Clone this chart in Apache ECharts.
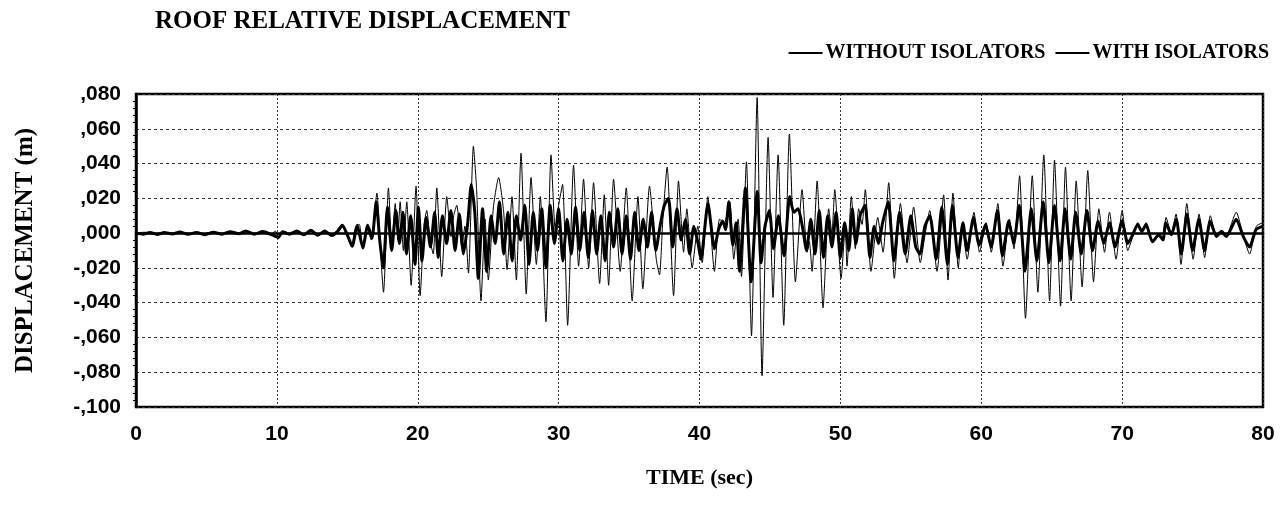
<!DOCTYPE html>
<html>
<head>
<meta charset="utf-8">
<script src="https://cdn.jsdelivr.net/npm/echarts@6/dist/echarts.min.js"></script>
<style>html,body{margin:0;padding:0;background:#fff}#c{width:1288px;height:508px}</style>
</head>
<body>
<div id="c"></div>
<script>
const titleText = 'ROOF RELATIVE DISPLACEMENT';
const seriesNames = ['WITHOUT ISOLATORS', 'WITH ISOLATORS'];
const xTicks = [0, 10, 20, 30, 40, 50, 60, 70, 80];
const yTicks = [-0.1, -0.08, -0.06, -0.04, -0.02, 0, 0.02, 0.04, 0.06, 0.08];

// WITHOUT ISOLATORS (thin line): time (s) and displacement (m)
const timeWithout = [0,0.6,1.2,1.8,2.4,3.0,3.6,4.2,4.8,5.4,6.0,6.6,7.2,7.7,8.3,8.9,9.5,9.9,10.1,10.5,11.0,11.5,12.0,12.5,13.0,13.4,13.8,14.2,14.6,15.0,15.3,15.6,15.85,16.1,16.4,16.7,
17.1,17.35,17.57,17.92,18.16,18.4,18.58,18.75,18.98,19.22,19.53,19.88,20.17,20.45,20.64,20.87,21.1,21.35,21.7,22.06,22.36,22.55,22.77,23.12,23.35,23.6,23.95,24.18,24.49,24.78,25.01,25.37,
25.74,26.1,26.34,26.69,27.0,27.33,27.7,28.04,28.42,28.7,29.1,29.46,29.76,30.0,30.28,30.64,31.06,31.42,31.77,32.13,32.48,32.91,33.24,33.55,33.9,
34.37,34.8,35.22,35.63,35.98,36.45,36.93,37.16,37.4,37.7,38.16,38.51,38.87,39.1,39.48,39.88,40.19,40.59,41.06,41.42,41.77,42.15,
42.43,42.74,42.98,43.33,43.69,44.09,44.44,44.87,45.22,45.58,45.98,46.38,46.81,47.28,47.64,47.8,47.99,48.35,48.77,49.17,49.4,49.6,50.05,
50.35,50.47,50.78,51.06,51.3,51.54,51.77,52.17,52.65,53.03,53.43,53.83,54.26,54.73,55.2,55.67,56.03,56.34,56.86,57.33,57.64,57.99,58.37,
58.63,59.0,59.48,59.88,60.35,60.71,61.18,61.54,62.0,62.32,62.72,63.14,63.62,64.02,64.44,64.85,65.2,65.63,65.98,66.38,
66.74,67.16,67.56,67.97,68.35,68.75,69.1,69.57,70.0,70.4,70.76,71.11,71.42,71.7,72.17,72.6,72.88,73.12,73.48,73.83,74.18,74.59,
75.04,75.46,75.86,76.26,76.69,77.04,77.4,78.1,78.58,79.05,79.53,80.0];
const dispWithout = [0,0.0005,-0.0008,0.0004,-0.0006,0.0003,-0.0009,0.0005,-0.0004,0.0006,-0.0008,0.0004,-0.0005,0.0015,-0.0008,0.0007,-0.001,0.0012,-0.003,0.001,-0.0005,0.0015,-0.0012,0.0018,-0.0015,0.0015,-0.001,0.001,0.005,-0.002,-0.008,0.004,0.005,-0.009,0.004,-0.004,
0.023,-0.01,-0.034,0.026,-0.007,0.017,-0.004,0.018,-0.010,0.018,-0.030,0.027,-0.036,0.005,0.013,-0.004,-0.012,0.026,-0.025,0.021,-0.002,0.010,0.016,-0.008,0.004,-0.023,0.050,0.025,-0.039,0.008,-0.027,0.015,
0.032,0.012,-0.021,0.021,-0.027,0.046,-0.035,0.032,-0.018,0.021,-0.051,0.045,0.002,0.016,0.028,-0.053,0.039,-0.019,0.031,-0.020,0.029,-0.029,0.022,-0.030,0.031,
-0.022,0.026,-0.039,0.021,-0.032,0.027,-0.015,-0.024,0.008,0.038,-0.036,0.030,-0.011,0.014,-0.020,0.004,-0.017,0.021,-0.022,0.008,0.006,0.018,
-0.015,0.008,-0.025,0.041,-0.059,0.078,-0.082,0.055,-0.037,0.045,-0.053,0.057,-0.028,0.025,-0.011,-0.005,-0.022,0.030,-0.043,0.014,0.0,0.025,-0.026,
0.004,-0.019,0.021,-0.009,0.014,0.005,0.025,-0.022,0.009,-0.011,0.029,-0.026,0.017,-0.017,0.015,-0.017,0.0,0.013,-0.022,0.022,-0.027,0.023,-0.020,
0.004,-0.015,0.012,-0.011,0.006,-0.011,0.017,-0.019,0.008,-0.009,0.033,-0.049,0.033,-0.034,0.045,-0.039,0.042,-0.042,0.038,-0.039,
0.030,-0.031,0.036,-0.028,0.014,-0.011,0.012,-0.015,0.013,-0.010,-0.002,0.006,0.001,0.006,-0.005,-0.001,-0.004,0.009,0.0,0.011,-0.018,0.017,
-0.015,0.011,-0.014,0.010,-0.001,0.001,-0.001,0.012,-0.001,-0.012,0.004,0.006];

// WITH ISOLATORS (thick line): time (s) and displacement (m)
const timeWith = [0,0.5,1.0,1.5,2.0,2.6,3.1,3.7,4.3,4.9,5.5,6.1,6.7,7.3,7.8,8.4,9.0,9.6,10.1,10.4,10.9,11.4,11.9,12.4,12.9,13.4,13.9,14.3,14.65,15.0,15.35,15.7,16.1,16.45,16.75,
17.05,17.3,17.55,17.85,18.15,18.45,18.7,18.95,19.2,19.5,19.8,20.05,20.3,20.6,20.9,21.2,21.45,21.75,22.05,22.35,22.65,22.95,23.25,23.55,23.8,24.05,24.3,24.6,24.9,25.2,25.5,25.8,
26.1,26.4,26.7,27.0,27.3,27.6,27.9,28.2,28.5,28.8,29.1,29.4,29.7,30.0,30.3,30.6,30.9,31.2,31.5,31.8,32.1,32.4,32.7,33.0,33.3,33.6,33.9,
34.2,34.5,34.8,35.1,35.4,35.7,36.0,36.3,36.6,36.9,37.2,37.5,37.8,38.1,38.4,38.7,39.0,39.3,39.6,39.9,40.1,40.6,41.06,41.35,41.65,41.85,42.08,42.36,42.6,42.84,
43.26,43.66,44.1,44.37,44.65,44.96,45.25,45.6,46.0,46.4,46.7,47.0,47.3,47.6,47.9,48.2,48.5,48.8,49.1,49.4,49.7,50.0,
50.3,50.6,50.85,51.1,51.4,51.75,52.1,52.4,52.7,53.0,53.4,53.8,54.2,54.6,55.0,55.35,55.65,56.0,56.35,56.8,57.2,57.6,57.95,58.35,
58.7,59.0,59.45,59.85,60.3,60.7,61.15,61.5,61.95,62.3,62.7,63.1,63.55,63.95,64.4,64.8,65.2,65.6,65.95,66.35,
66.7,67.1,67.5,67.9,68.3,68.7,69.1,69.5,70.0,70.4,70.75,71.1,71.4,71.7,72.15,72.6,72.9,73.1,73.5,73.85,74.2,74.6,
75.0,75.45,75.85,76.25,76.7,77.05,77.4,78.1,78.6,79.05,79.5,80.0];
const dispWith = [0,-0.0006,0.0004,-0.0008,0.0003,-0.0005,0.0006,-0.0007,0.0004,-0.0009,0.0005,-0.0006,0.0008,-0.0004,0.0012,-0.0006,0.0009,-0.0008,-0.0025,0.0008,-0.0006,0.0012,-0.001,0.0016,-0.0012,0.0012,-0.0014,0.0008,0.0045,-0.001,-0.0075,0.0045,-0.0085,0.0045,-0.003,
0.018,-0.004,-0.020,0.015,-0.010,0.013,-0.006,0.012,-0.012,0.010,-0.018,0.015,-0.016,0.009,-0.008,0.012,-0.014,0.010,-0.006,0.013,-0.010,0.011,-0.012,0.006,0.028,0.012,-0.026,0.014,-0.022,0.010,-0.006,0.018,
-0.012,0.012,-0.016,0.010,-0.004,0.016,-0.018,0.012,-0.010,0.014,-0.020,0.016,-0.006,0.014,-0.016,0.008,-0.012,0.015,-0.010,0.012,-0.014,0.013,-0.012,0.010,-0.016,0.012,-0.008,
0.014,-0.012,0.010,-0.015,0.012,-0.010,0.008,-0.008,0.012,-0.010,0.004,0.016,0.020,-0.008,0.014,-0.004,0.008,-0.012,0.004,-0.006,-0.015,0.017,-0.009,0.002,0.007,0.002,0.018,-0.007,0.006,-0.022,
0.026,-0.028,0.024,-0.017,0.004,0.013,-0.009,0.010,-0.013,0.021,0.012,0.014,0.004,-0.010,0.008,-0.012,0.013,-0.014,0.010,-0.008,0.012,-0.014,
0.006,-0.010,0.014,-0.006,0.010,0.016,-0.014,0.004,-0.006,0.006,0.018,-0.016,0.012,-0.012,0.010,-0.008,-0.012,0.004,0.010,-0.015,0.015,-0.018,0.016,-0.014,
0.006,-0.010,0.009,-0.007,0.005,-0.008,0.013,-0.013,0.007,-0.006,0.016,-0.022,0.014,-0.016,0.018,-0.017,0.016,-0.016,0.014,-0.015,
0.012,-0.012,0.013,-0.010,0.007,-0.006,0.006,-0.008,0.007,-0.006,-0.001,0.005,0.001,0.005,-0.005,-0.001,-0.004,0.006,-0.001,0.008,-0.012,0.011,
-0.010,0.008,-0.010,0.007,-0.002,0.001,-0.002,0.008,-0.002,-0.008,0.002,0.004];

const zip = (t, v) => t.map((x, i) => [x, v[i]]);
const fmtY = v => { const n = Math.round(v * 1000); return (n < 0 ? '-' : '') + ',' + String(Math.abs(n)).padStart(3, '0'); };

const serif = '"Liberation Serif", "DejaVu Serif", serif';
const sans = '"Liberation Sans", Arial, sans-serif';

const chart = echarts.init(document.getElementById('c'), null, { renderer: 'canvas' });
chart.setOption({
  animation: false,
  backgroundColor: '#fff',
  title: {
    text: titleText, left: 150, top: 4,
    textStyle: { fontFamily: serif, fontWeight: 'bold', fontSize: 25, color: '#000' }
  },
  legend: {
    data: [{ name: seriesNames[0], icon: 'rect' }, { name: seriesNames[1], icon: 'rect' }],
    right: 14, top: 38, itemWidth: 34, itemHeight: 2, itemGap: 10,
    textStyle: { fontFamily: serif, fontWeight: 'bold', fontSize: 20, color: '#000', padding: [0, 0, 0, -2] }
  },
  grid: { left: 136, right: 25, top: 94, bottom: 101, show: true, borderColor: '#000', borderWidth: 2.5, backgroundColor: 'transparent' },
  xAxis: {
    type: 'value', min: xTicks[0], max: xTicks[xTicks.length - 1], interval: 10,
    name: 'TIME (sec)', nameLocation: 'middle', nameGap: 60,
    nameTextStyle: { fontFamily: serif, fontWeight: 'bold', fontSize: 22, color: '#000' },
    axisLine: { show: true, lineStyle: { color: '#000', width: 2.5 } },
    axisTick: { show: false },
    axisLabel: { margin: 17, fontFamily: sans, fontWeight: 'bold', fontSize: 21, color: '#000' },
    splitLine: { show: true, lineStyle: { color: '#333', width: 1, type: [2, 2] } }
  },
  yAxis: {
    type: 'value', min: yTicks[0], max: yTicks[yTicks.length - 1], interval: 0.02,
    name: 'DISPLACEMENT (m)', nameLocation: 'middle', nameGap: 98, nameRotate: 90,
    nameTextStyle: { fontFamily: serif, fontWeight: 'bold', fontSize: 25, color: '#000' },
    axisLine: { show: true, lineStyle: { color: '#000', width: 2.5 } },
    axisTick: { show: false },
    minorTick: { show: true, splitNumber: 5, length: 3, lineStyle: { color: '#000' } },
    axisLabel: { margin: 15, fontFamily: sans, fontWeight: 'bold', fontSize: 21, color: '#000', formatter: fmtY },
    splitLine: { show: true, lineStyle: { color: '#333', width: 1, type: [3, 3] } }
  },
  series: [
    { name: seriesNames[0], type: 'line', data: zip(timeWithout, dispWithout), symbol: 'none', smooth: 0.2,
      lineStyle: { color: '#000', width: 1 }, itemStyle: { color: '#000' }, z: 2 },
    { name: seriesNames[1], type: 'line', data: zip(timeWith, dispWith), symbol: 'none', smooth: 0.2,
      lineStyle: { color: '#000', width: 3 }, itemStyle: { color: '#000' }, z: 3 }
  ]
});
</script>
</body>
</html>
